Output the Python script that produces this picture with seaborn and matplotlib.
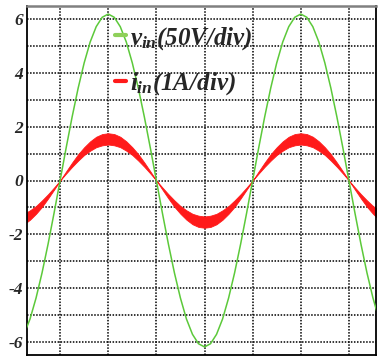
import numpy as np
import pandas as pd
import matplotlib
matplotlib.use("Agg")
import matplotlib.pyplot as plt
import seaborn as sns
from matplotlib.lines import Line2D

# sample positions in grid divisions (one every 1/8 div)
x_div = np.arange(-0.75, 6.626, 0.125)

# input voltage trace (50 V/div)
v_in = [-5.73, -5.16, -4.38, -3.44, -2.37, -1.21,
        0, 1.21, 2.37, 3.44, 4.38, 5.16, 5.73, 6.08, 6.2, 6.08, 5.73, 5.16, 4.38, 3.44, 2.37, 1.21, 0,
        -1.21, -2.37, -3.44, -4.38, -5.16, -5.73, -6.08, -6.2, -6.08, -5.73, -5.16, -4.38, -3.44, -2.37, -1.21,
        0, 1.21, 2.37, 3.44, 4.38, 5.16, 5.73, 6.08, 6.2, 6.08, 5.73, 5.16, 4.38, 3.44, 2.37, 1.21, 0,
        -1.21, -2.37, -3.44, -4.38, -5.16]

# input current band (1 A/div): outer and inner edge of the ripple envelope
i_outer = [-1.63, -1.46, -1.24, -0.98, -0.67, -0.34,
           0, 0.34, 0.67, 0.98, 1.24, 1.46, 1.63, 1.73, 1.76, 1.73, 1.63, 1.46, 1.24, 0.98, 0.67, 0.34, 0,
           -0.34, -0.67, -0.98, -1.24, -1.46, -1.63, -1.73, -1.76, -1.73, -1.63, -1.46, -1.24, -0.98, -0.67, -0.34,
           0, 0.34, 0.67, 0.98, 1.24, 1.46, 1.63, 1.73, 1.76, 1.73, 1.63, 1.46, 1.24, 0.98, 0.67, 0.34, 0,
           -0.34, -0.67, -0.98, -1.24, -1.46]
i_inner = [-1.24, -1.11, -0.95, -0.74, -0.51, -0.26,
           0, 0.26, 0.51, 0.74, 0.95, 1.11, 1.24, 1.31, 1.34, 1.31, 1.24, 1.11, 0.95, 0.74, 0.51, 0.26, 0,
           -0.26, -0.51, -0.74, -0.95, -1.11, -1.24, -1.31, -1.34, -1.31, -1.24, -1.11, -0.95, -0.74, -0.51, -0.26,
           0, 0.26, 0.51, 0.74, 0.95, 1.11, 1.24, 1.31, 1.34, 1.31, 1.24, 1.11, 0.95, 0.74, 0.51, 0.26, 0,
           -0.26, -0.51, -0.74, -0.95, -1.11]

y_labels = [-6, -4, -2, 0, 2, 4, 6]

df = pd.DataFrame({"t": x_div, "v": v_in, "hi": i_outer, "lo": i_inner})

sns.set_style("white")
plt.rcParams["mathtext.fontset"] = "custom"
plt.rcParams["mathtext.it"] = "Liberation Serif:italic:bold"
plt.rcParams["mathtext.rm"] = "Liberation Serif:italic:bold"

fig = plt.figure(figsize=(3.8, 3.62), dpi=100)
ax = fig.add_axes([27 / 380, 7 / 362, 349 / 380, 349 / 362])

green = "#5cc93a"
red = "#ff1a1a"

ax.fill_between(df["t"], df["lo"], df["hi"], color=red, linewidth=0.6, edgecolor=red, zorder=2)
sns.lineplot(data=df, x="t", y="v", color=green, linewidth=1.1, ax=ax, zorder=3)

ax.set_xlim(-0.6875, 6.5625)
ax.set_ylim(-6.5, 6.5)
ax.set_xticks(range(0, 7))
ax.set_xticklabels([])
ax.set_yticks(y_labels)
ax.set_yticks([-5, -3, -1, 1, 3, 5], minor=True)
ax.set_yticklabels([str(v) for v in y_labels], fontfamily="Liberation Serif",
                   fontweight="bold", fontstyle="italic", fontsize=12.5)
ax.tick_params(which="both", length=0, pad=3)
ax.set_xlabel("")
ax.set_ylabel("")

ax.grid(True, which="both", color="black", linestyle=(0, (1, 1)), linewidth=1.1)
for side in ["left", "bottom", "right"]:
    ax.spines[side].set_color("black")
    ax.spines[side].set_linewidth(1.3)
ax.spines["top"].set_color("#808080")
ax.spines["top"].set_linewidth(1.8)

handles = [Line2D([], [], color="#8fd05a", linewidth=3),
           Line2D([], [], color=red, linewidth=3)]
labels = [r"$v_{in}$(50V/div)", r"$i_{in}$(1A/div)"]
leg = ax.legend(handles, labels, loc="upper left", bbox_to_anchor=(0.215, 0.982),
                frameon=False, handlelength=0.45, handletextpad=0.15, labelspacing=0.75,
                borderpad=0, prop={"family": "Liberation Serif", "weight": "bold",
                                   "style": "italic", "size": 18})

fig.savefig("out.png", dpi=100)
